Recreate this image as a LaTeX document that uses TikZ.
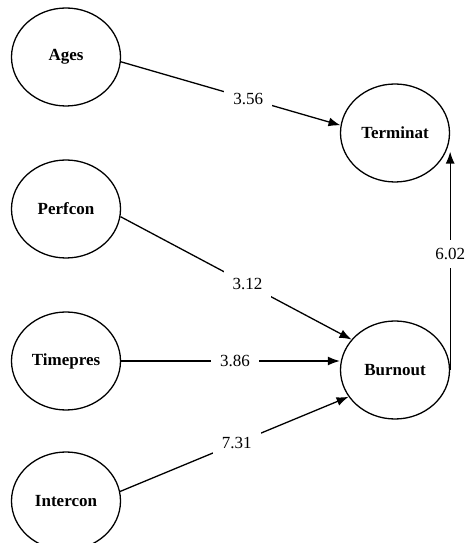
\documentclass[tikz,border=0pt]{standalone}
\usepackage{fontspec}
\setmainfont{Liberation Serif}
\usepackage{tikz}
\usetikzlibrary{arrows.meta,positioning,shapes.geometric}

\begin{document}
\begin{tikzpicture}[
    x=1pt, y=1pt,
    node distance=152pt,
    >={Latex[length=12pt,width=9pt]},
    var/.style={
		ellipse,
		draw=black,
		line width=1.3pt,
		minimum width=109pt,
		minimum height=98pt,
		inner sep=0pt,
		font=\fontsize{17}{20}\selectfont\bfseries
	},
	weight/.style={
		fill=white,
		inner sep=9pt,
		font=\fontsize{17}{20}\selectfont
	},
	path/.style={
		line width=1.3pt
	}
  ]
  \useasboundingbox (0,0) rectangle (471,543);
    % the latent variables, left column first

  \node [var] at (66,486) (ages) {Ages};
  \node [var, below of=ages] (perfcon) {Perfcon};
  \node [var, below of=perfcon] (timepres) {Timepres};
  \node [var, below of=timepres, yshift=12pt] (intercon) {Intercon};

  \node [var] at (395,410) (terminat) {Terminat};
  \node [var, below of=terminat, yshift=-85pt] (burnout) {Burnout};

 \draw [path,->] (ages.-5) -- node [weight, pos=0.58] {3.56} (terminat.172);
 \draw [path,->] (perfcon.-8) -- node [weight, pos=0.55] {3.12} (burnout.145);
 \draw [path,->] (timepres.east) -- node [weight, pos=0.52] {3.86} (timepres.east -| burnout.west);
 \draw [path,->] (intercon.10) -- node [weight, pos=0.51] {7.31} (burnout.-150);
 \draw [path,->] (burnout.east) -- node [weight, pos=0.53, inner sep=8pt] {6.02} (burnout.east |- terminat.-20);

\end{tikzpicture}
\end{document}
